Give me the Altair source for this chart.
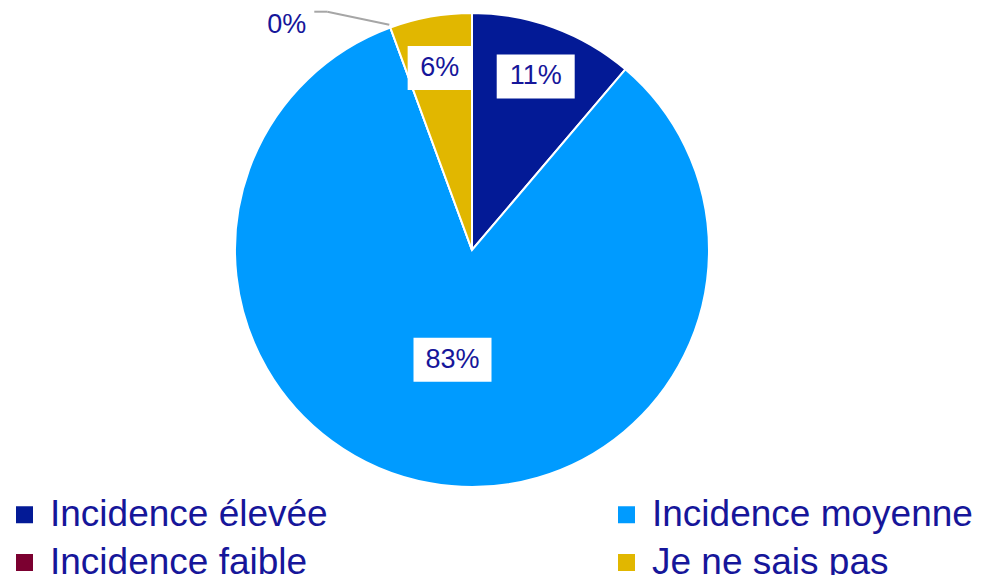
import altair as alt
import pandas as pd

categories = ["Incidence élevée", "Incidence moyenne", "Incidence faible", "Je ne sais pas"]
values = [11.2, 83.2, 0.0, 5.6]
labels = ["11%", "83%", "0%", "6%"]
colors = ["#031a96", "#009bff", "#7b0030", "#e1b700"]

df = pd.DataFrame({
    "cat": categories,
    "value": values,
    "label": labels,
    "order": list(range(len(categories))),
})

W, H = 974, 567
CX, CY, R = 464, 242, 237
TEXT = "#16169a"
FONT = "Liberation Sans"

base = alt.Chart(df)

arc = base.mark_arc(radius=R, stroke="white", strokeWidth=2).encode(
    theta=alt.Theta("value:Q", stack=True),
    order=alt.Order("order:Q"),
    color=alt.Color(
        "cat:N",
        scale=alt.Scale(domain=categories, range=colors),
        legend=alt.Legend(title=None, values=categories, direction="horizontal"),
    ),
    x=alt.value(CX),
    y=alt.value(CY),
)

geo = base.transform_joinaggregate(total="sum(value)").transform_window(
    cum="sum(value)", sort=[alt.SortField("order")], frame=[None, 0]
).transform_calculate(
    ang="2*PI*(datum.cum - datum.value/2)/datum.total"
).transform_calculate(
    lr=f"datum.value > 50 ? {0.47 * R} : {0.78 * R}"
).transform_calculate(
    lx=f"{CX} + datum.lr*sin(datum.ang)",
    ly=f"{CY} - datum.lr*cos(datum.ang)",
    bw="14*length(datum.label) + 36",
).transform_calculate(
    x1="datum.lx - datum.bw/2",
    x2="datum.lx + datum.bw/2",
    y1="datum.ly - 22",
    y2="datum.ly + 22",
)

inside = geo.transform_filter("datum.value > 0")

boxes = inside.mark_rect(color="white").encode(
    x=alt.X("x1:Q", scale=None, axis=None),
    x2="x2:Q",
    y=alt.Y("y1:Q", scale=None, axis=None),
    y2="y2:Q",
)

texts = inside.mark_text(font=FONT, fontSize=27, color=TEXT, align="center", baseline="middle").encode(
    x=alt.X("lx:Q", scale=None, axis=None),
    y=alt.Y("ly:Q", scale=None, axis=None),
    text="label:N",
)

outside = geo.transform_filter("datum.value == 0").transform_calculate(
    px=f"{CX} + {R + 3}*sin(datum.ang)",
    py=f"{CY} - {R + 3}*cos(datum.ang)",
).transform_calculate(
    ex="datum.px - 62",
    ey="datum.py - 13",
).transform_calculate(
    tx="datum.ex - 13",
    lbx="datum.ex - 21",
)

rule1 = outside.mark_rule(color="#a6a6a6", strokeWidth=2).encode(
    x=alt.X("px:Q", scale=None, axis=None),
    y=alt.Y("py:Q", scale=None, axis=None),
    x2="ex:Q",
    y2="ey:Q",
)
rule2 = outside.mark_rule(color="#a6a6a6", strokeWidth=2).encode(
    x=alt.X("ex:Q", scale=None, axis=None),
    y=alt.Y("ey:Q", scale=None, axis=None),
    x2="tx:Q",
    y2="ey:Q",
)
zero_text = outside.mark_text(font=FONT, fontSize=27, color=TEXT, align="right", baseline="middle").encode(
    x=alt.X("lbx:Q", scale=None, axis=None),
    y=alt.Y("py:Q", scale=None, axis=None),
    text="label:N",
)

chart = alt.layer(arc, boxes, texts, rule1, rule2, zero_text).properties(
    width=W, height=H, padding=0, autosize="none"
).configure_view(stroke=None).configure_legend(
    orient="none",
    legendX=-2,
    legendY=488,
    columns=2,
    columnPadding=280,
    rowPadding=10,
    labelFontSize=37,
    labelFont=FONT,
    labelColor=TEXT,
    symbolType="square",
    symbolSize=289,
    symbolStrokeWidth=0,
    labelLimit=600,
    labelOffset=7,
)

chart.save("out.html", embed_options={"renderer": "svg", "actions": False})
